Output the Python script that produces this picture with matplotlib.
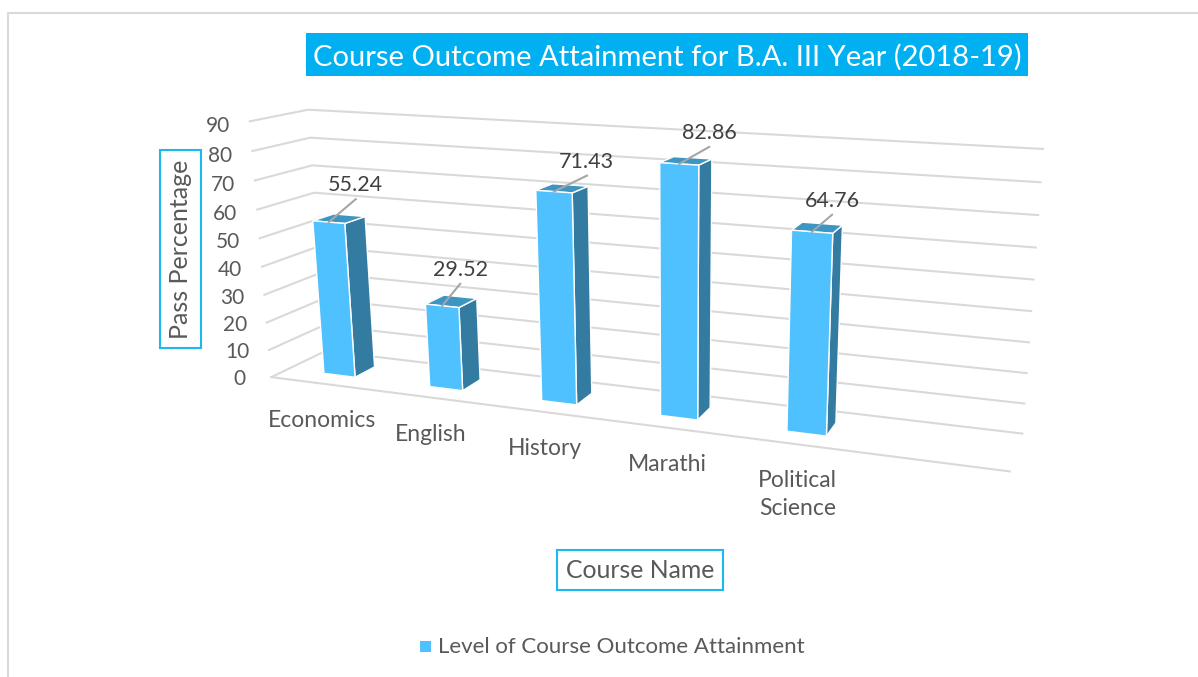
import numpy as np
import matplotlib
matplotlib.use("Agg")
import matplotlib.pyplot as plt
from matplotlib.patches import Polygon, Rectangle

plt.rcParams['font.family'] = ['Lato', 'DejaVu Sans']

courses = ['Economics', 'English', 'History', 'Marathi', 'Political\nScience']
values = [55.24, 29.52, 71.43, 82.86, 64.76]
value_labels = ['55.24', '29.52', '71.43', '82.86', '64.76']
y_ticks = [0, 10, 20, 30, 40, 50, 60, 70, 80, 90]

# the sixth slot is the empty one Excel left on the right
N_SLOTS = 6
BAR_W = 0.3
D0, D1 = 0.3, 0.68

# fit a camera from the corners of the plot box (slot, depth, value) -> pixels
world = [(0, 0, 0), (6, 0, 0), (0, 0, 90), (0, 1, 0), (6, 1, 0), (0, 1, 90), (6, 1, 90)]
pix = [(270, 376), (1010, 472), (251, 122), (327, 352), (1022, 433), (307, 109), (1043, 149)]


def fit_camera(world, pix):
    rows = []
    for (a, b, c), (x, y) in zip(world, pix):
        p = [a, b, c, 1]
        rows.append(p + [0, 0, 0, 0] + [-x * q for q in p])
        rows.append([0, 0, 0, 0] + p + [-y * q for q in p])
    _, _, vt = np.linalg.svd(np.array(rows, float))
    return vt[-1].reshape(3, 4)


CAM = fit_camera(world, pix)


def proj(a, b, c):
    h = CAM @ np.array([a, b, c, 1.0])
    return h[0] / h[2], h[1] / h[2]


fig = plt.figure(figsize=(11.98, 6.77), dpi=100)
ax = fig.add_axes([0, 0, 1, 1])
ax.set_xlim(0, 1198)
ax.set_ylim(677, 0)
ax.axis('off')

# outer frame, cropped on the right and at the bottom
ax.plot([8, 8, 1198], [677, 13, 13], color='#D9D9D9', lw=1.5)

# title
ax.add_patch(Rectangle((306, 33), 722, 43, color='#00B0F0', lw=0))
ax.text(667, 57, 'Course Outcome Attainment for B.A. III Year (2018-19)', color='white',
        fontsize=21, ha='center', va='center')

# walls and floor
for t in y_ticks:
    pts = [proj(0, 0, t), proj(0, 1, t), proj(N_SLOTS, 1, t)]
    ax.plot(*zip(*pts), color='#D9D9D9', lw=1.5, zorder=1)
    x, y = proj(0, 0, t)
    ax.text(x - 32, y + 2 + t / 30, str(t), color='#595959', fontsize=15, ha='center', va='center')
ax.plot(*zip(proj(0, 0, 0), proj(N_SLOTS, 0, 0)), color='#D9D9D9', lw=1.5, zorder=1)

# bars, left to right
leader_dx = [27, 18, 33, 30, 20]
leader_dy = [-23, -22, -16, -17, -17]
for i, v in enumerate(values):
    a0 = i + 0.5 - BAR_W / 2
    a1 = i + 0.5 + BAR_W / 2
    front = [proj(a0, D0, 0), proj(a1, D0, 0), proj(a1, D0, v), proj(a0, D0, v)]
    side = [proj(a1, D0, 0), proj(a1, D1, 0), proj(a1, D1, v), proj(a1, D0, v)]
    top = [proj(a0, D0, v), proj(a1, D0, v), proj(a1, D1, v), proj(a0, D1, v)]
    ax.add_patch(Polygon(side, fc='#337BA1', ec='white', lw=1, zorder=3))
    ax.add_patch(Polygon(top, fc='#3D96C2', ec='white', lw=1, zorder=3))
    ax.add_patch(Polygon(front, fc='#4FC1FF', ec='white', lw=1, zorder=3))

    sx, sy = proj(i + 0.5, D0, v)
    ex, ey = sx + leader_dx[i], sy + leader_dy[i]
    ax.plot([sx, ex], [sy, ey], color='#A6A6A6', lw=1.5, zorder=4)
    ax.text(ex, ey - 14, value_labels[i], color='#404040', fontsize=15.5, ha='center', va='center', zorder=5)

    bx, by = proj(i + 0.5, 0, 0)
    ax.text(bx - 1, by + 26, courses[i], color='#595959', fontsize=16.5, ha='center', va='top',
            linespacing=1.4, zorder=5)

# axis titles
ax.add_patch(Rectangle((160, 150), 41, 198, fc='white', ec='#1CB8F0', lw=1.5))
ax.text(181, 249, 'Pass Percentage', color='#595959', fontsize=18, rotation=90, ha='center', va='center')
ax.add_patch(Rectangle((557, 550), 166, 40, fc='white', ec='#1CB8F0', lw=1.5))
ax.text(640, 570, 'Course Name', color='#595959', fontsize=17.8, ha='center', va='center')

# legend
ax.add_patch(Rectangle((420, 641), 11, 11, color='#4FC1FF', lw=0))
ax.text(438, 647, 'Level of Course Outcome Attainment', color='#595959', fontsize=16, ha='left', va='center')

fig.savefig('out.png', dpi=100)
